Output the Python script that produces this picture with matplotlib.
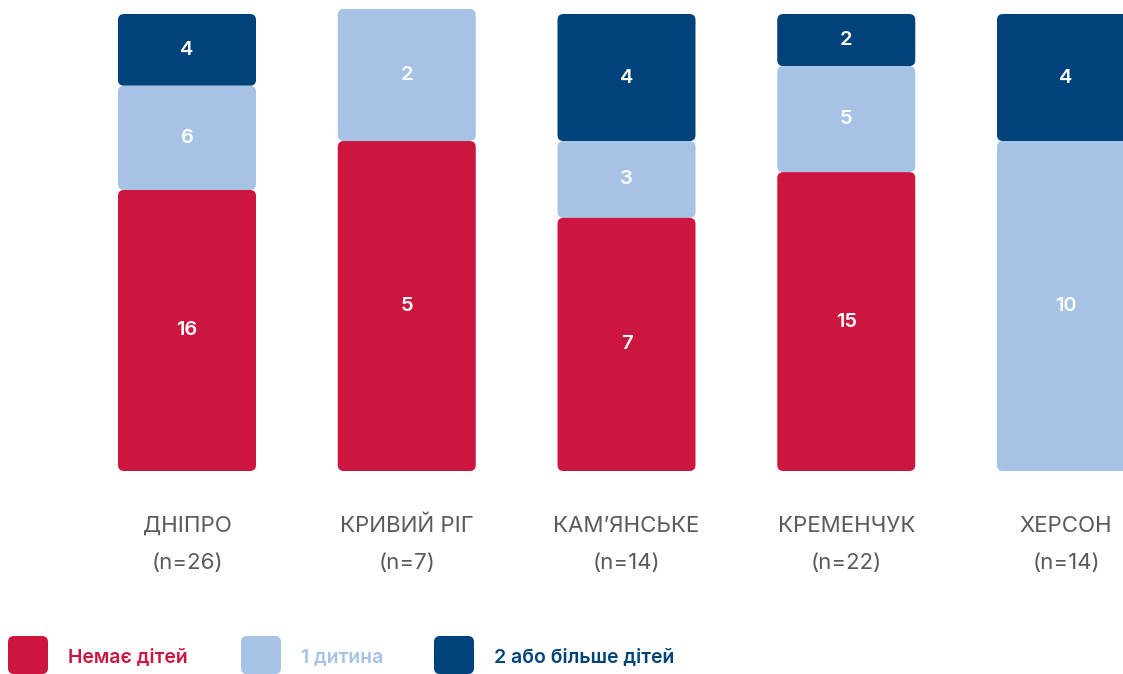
import matplotlib.pyplot as plt
from matplotlib.patches import FancyBboxPatch
from matplotlib.transforms import IdentityTransform
import numpy as np

plt.rcParams['font.family'] = ['Inter', 'Noto Sans', 'DejaVu Sans']

cities = ['ДНІПРО', 'КРИВИЙ РІГ', 'КАМ’ЯНСЬКЕ', 'КРЕМЕНЧУК', 'ХЕРСОН']
n_total = [26, 7, 14, 22, 14]
# counts shown as labels
no_kids = [16, 5, 7, 15, 0]
one_kid = [6, 2, 3, 5, 10]
two_plus = [4, 0, 4, 2, 4]
# segment heights as drawn in the original (% of bar height)
no_kids_h = [61.5, 72.2, 55.4, 65.4, 0]
one_kid_h = [22.8, 28.9, 16.8, 23.2, 72.2]
two_plus_h = [15.7, 0, 27.8, 11.4, 27.8]

series = [('Немає дітей', no_kids, no_kids_h, '#cc1640'),
          ('1 дитина', one_kid, one_kid_h, '#a6c3e6'),
          ('2 або більше дітей', two_plus, two_plus_h, '#00427a')]

W, H = 1123, 674
fig = plt.figure(figsize=(W / 100, H / 100), dpi=100)
ax = fig.add_axes([0, (H - 471) / H, 1, 457 / H])
ax.set_xlim(-187 / 219.75, (W - 187) / 219.75)
ax.set_ylim(0, 100)
ax.axis('off')

x = np.arange(len(cities))
bottom = np.zeros(len(cities))
bars = []
for name, vals, heights, color in series:
    h = np.array(heights)
    b = ax.bar(x, h, bottom=bottom, width=0.628, color=color)
    bars.append((b, vals, h, bottom.copy()))
    bottom += h

fig.canvas.draw()
# swap plain bars for rounded rectangles (top segment drawn first)
z = 2
for b, vals, h, bot in reversed(bars):
    for rect, v, s, y0 in zip(b.patches, vals, h, bot):
        rect.set_visible(False)
        if v == 0:
            continue
        (x0, yb), (x1, yt) = ax.transData.transform(
            [(rect.get_x(), y0), (rect.get_x() + rect.get_width(), y0 + s)])
        r = 6
        p = FancyBboxPatch((x0 + r, yb + r), x1 - x0 - 2 * r, yt - yb - 2 * r,
                           boxstyle=f'round,pad={r}', transform=IdentityTransform(),
                           facecolor=rect.get_facecolor(), edgecolor='none',
                           zorder=z, clip_on=False)
        ax.add_artist(p)
        ax.text(rect.get_x() + rect.get_width() / 2, y0 + s / 2, str(v),
                ha='center', va='center', color='white', fontsize=14.5,
                fontweight='semibold', zorder=10)
    z += 1

for i, (c, n) in enumerate(zip(cities, n_total)):
    ax.text(i, -12.0, c, ha='center', va='center', color='#5a5a5a', fontsize=16,
            clip_on=False)
    ax.text(i, -20.1, f'(n={n})', ha='center', va='center', color='#5a5a5a',
            fontsize=16, clip_on=False)

# legend
leg_x = [8, 241, 434]
for (name, vals, heights, color), lx in zip(series, leg_x):
    fig.add_artist(FancyBboxPatch((lx + 6, 6), 28, 26, boxstyle='round,pad=6',
                                  transform=IdentityTransform(), facecolor=color,
                                  edgecolor='none'))
    fig.text((lx + 60) / W, 1 - 657 / H, name, ha='left', va='center',
             color=color, fontsize=14, fontweight='semibold')

fig.savefig('out.png', dpi=100)
